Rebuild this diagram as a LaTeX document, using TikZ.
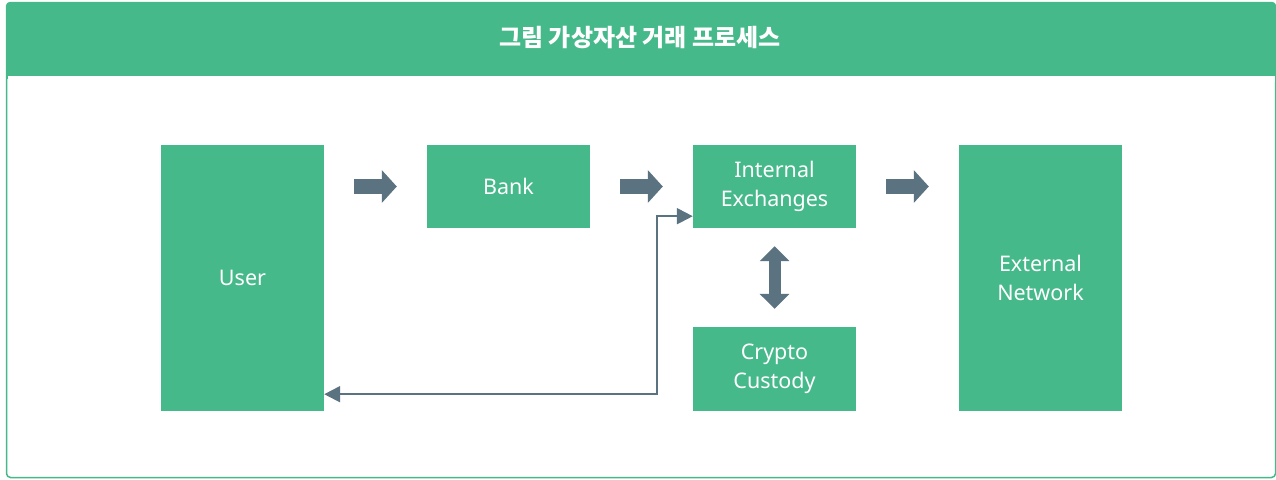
\documentclass[tikz,border=0pt]{standalone}
\usepackage{fontspec}
\setmainfont{Noto Sans}
\newfontfamily\kr{Noto Sans CJK KR}
\usetikzlibrary{arrows.meta,calc}
\definecolor{grn}{HTML}{46B98A}
\definecolor{gry}{HTML}{5B7280}
\tikzset{
  box/.style={fill=grn, draw=none, minimum width=163pt, text=white, font=\fontsize{21.5}{29}\selectfont, align=center, inner sep=0pt},
  blockarrow/.style={draw=gry, line width=15pt, -{Triangle[length=15pt,width=32pt]}, shorten <=30pt, shorten >=30pt},
  dblarrow/.style={draw=gry, line width=12pt, {Triangle[length=15pt,width=29pt]}-{Triangle[length=15pt,width=29pt]}, shorten <=18pt, shorten >=18pt},
  conn/.style={draw=gry, line width=2pt, {Triangle[length=16pt,width=16pt]}-{Triangle[length=16pt,width=16pt]}}
}
\begin{document}
\begin{tikzpicture}[x=1pt,y=-1pt]
\useasboundingbox (0,0) rectangle (1276,479);
% frame
\draw[grn, line width=1.5pt, rounded corners=4pt] (6.5,2.5) rectangle (1275.5,477.5);
\fill[grn, rounded corners=4pt] (6,2) rectangle (1276,80);
\fill[grn] (6,60) rectangle (1276,76);
\fill[white] (7.5,76) rectangle (1274.5,82);
\node[text=white, font=\kr\bfseries\fontsize{24}{28}\selectfont] (title) at (640,38) {그림 가상자산 거래 프로세스};
% boxes
\node[box, minimum height=266pt] (user) at (242.5,278) {User};
\node[box, minimum height=83pt] (bank) at (508.5,186.5) {Bank};
\node[box, minimum height=83pt] (exch) at (774.5,186.5) {Internal\\Exchanges};
\node[box, minimum height=84pt] (cust) at (774.5,369) {Crypto\\Custody};
\node[box, minimum height=266pt] (ext) at (1040.5,278) {External\\Network};
% arrows
\draw[blockarrow] (user.east |- bank.west) -- (bank.west);
\draw[blockarrow] (bank.east) -- (exch.west);
\draw[blockarrow] (exch.east) -- (ext.west |- exch.east);
\draw[dblarrow] (exch.south) -- (cust.north);
\draw[conn] ([yshift=17pt]user.south east) -| ([xshift=-36pt,yshift=12pt]exch.south west) -- ([yshift=12pt]exch.south west);
\end{tikzpicture}
\end{document}
